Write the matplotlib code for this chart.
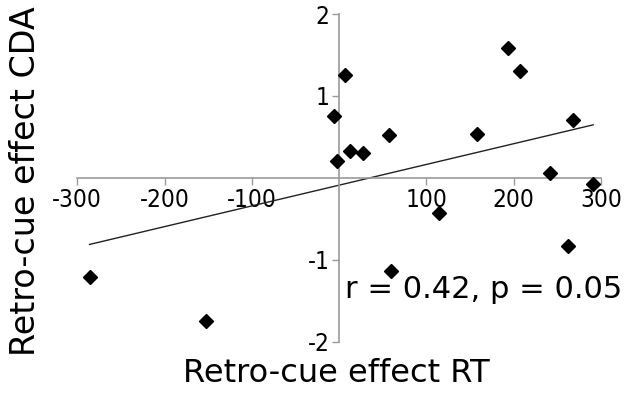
import numpy as np
import matplotlib
matplotlib.use("Agg")
import matplotlib.pyplot as plt

rt_effect = [7, -6, -3, 12, 27, 57, 158, 194, 207, 268, 241, 291, -286, -153, 114, 262, 59]
cda_effect = [1.26, 0.76, 0.21, 0.33, 0.30, 0.52, 0.54, 1.58, 1.31, 0.71, 0.06, -0.07,
              -1.21, -1.75, -0.43, -0.83, -1.14]
x_ticks = [-300, -200, -100, 100, 200, 300]
y_ticks = [-2, -1, 1, 2]
stats_text = "r = 0.42, p = 0.05"

plt.rcParams['font.family'] = ['DejaVu Sans']

fig = plt.figure(figsize=(6.43, 3.99), dpi=100)
ax = fig.add_axes([0.1202, 0.1436, 0.8145, 0.8213])

x = np.array(rt_effect, dtype=float)
y = np.array(cda_effect, dtype=float)
slope, intercept = np.polyfit(x, y, 1)
xl = np.array([x.min(), x.max()])
ax.plot(xl, slope * xl + intercept, color='#222222', lw=1.0, zorder=2)
ax.plot(x, y, linestyle='none', marker='D', markersize=7.5, color='black', zorder=3)

ax.set_xlim(-300, 300)
ax.set_ylim(-2, 2)
for side in ['top', 'right']:
    ax.spines[side].set_visible(False)
ax.spines['left'].set_position(('data', 0))
ax.spines['bottom'].set_position(('data', 0))
for side in ['left', 'bottom']:
    ax.spines[side].set_color('#999999')
    ax.spines[side].set_linewidth(1.2)
ax.set_xticks(x_ticks)
ax.set_yticks(y_ticks)
ax.set_xticklabels([str(v) for v in x_ticks])
ax.set_yticklabels([str(v) for v in y_ticks])
ax.tick_params(axis='both', colors='#999999', labelcolor='black',
               length=5, width=1.0, direction='out', pad=2)
for lab in ax.get_xticklabels() + ax.get_yticklabels():
    lab.set_fontsize(17.5)
    lab.set_fontstretch('condensed')
ax.patch.set_alpha(0)

ax.text(7, -1.36, stats_text, fontsize=22, ha='left', va='center')

fig.text(0.523, 0.065, "Retro-cue effect RT", fontsize=23, ha='center', va='center')
fig.text(0.040, 0.545, "Retro-cue effect CDA", fontsize=24, ha='center', va='center', rotation=90)

fig.savefig("out.png", dpi=100)
